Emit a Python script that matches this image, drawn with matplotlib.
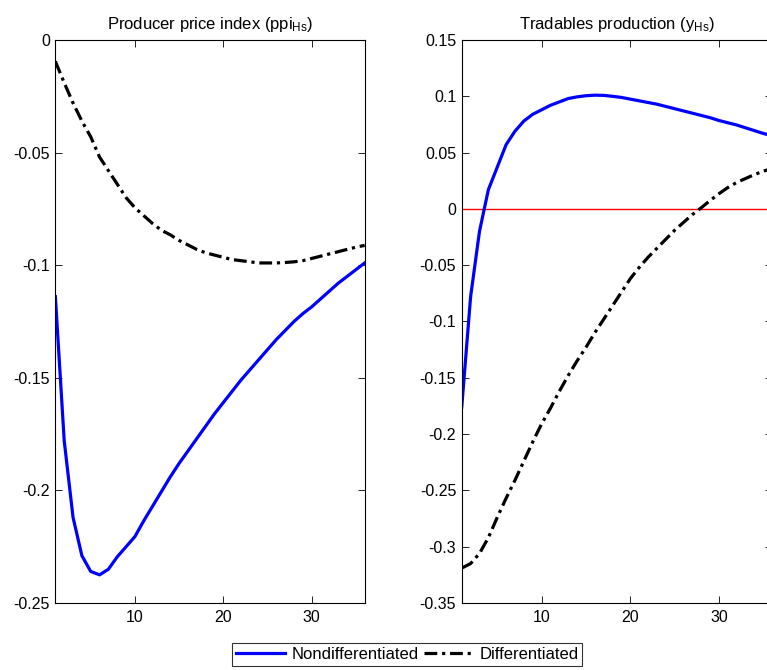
import numpy as np
import matplotlib
matplotlib.use('Agg')
import matplotlib.pyplot as plt

plt.rcParams['font.family'] = ['Liberation Sans', 'DejaVu Sans']
plt.rcParams['mathtext.default'] = 'regular'

# horizon (periods)
t = np.arange(1, 37)

# producer price index ppi_Hs
ppi_nondiff = [-0.114, -0.178, -0.212, -0.229, -0.236, -0.2375, -0.235, -0.2295, -0.225, -0.2205,
               -0.2135, -0.207, -0.2005, -0.194, -0.188, -0.1825, -0.177, -0.1715, -0.166, -0.161,
               -0.156, -0.151, -0.1465, -0.142, -0.1375, -0.133, -0.129, -0.125, -0.1215, -0.1185,
               -0.115, -0.1115, -0.108, -0.105, -0.102, -0.099]
ppi_diff = [-0.0095, -0.019, -0.028, -0.036, -0.043, -0.052, -0.058, -0.064, -0.070, -0.0745,
            -0.078, -0.0815, -0.0845, -0.0865, -0.089, -0.091, -0.093, -0.0945, -0.0955, -0.0965,
            -0.0975, -0.098, -0.0985, -0.099, -0.099, -0.099, -0.0988, -0.0985, -0.098, -0.097,
            -0.096, -0.095, -0.094, -0.093, -0.092, -0.0912]

# tradables production y_Hs
y_nondiff = [-0.176, -0.078, -0.020, 0.017, 0.037, 0.057, 0.069, 0.078, 0.084, 0.088,
             0.092, 0.095, 0.098, 0.0995, 0.1005, 0.101, 0.1008, 0.100, 0.099, 0.0975,
             0.096, 0.0945, 0.093, 0.091, 0.089, 0.087, 0.085, 0.083, 0.081, 0.0785,
             0.0765, 0.0745, 0.072, 0.0695, 0.067, 0.065]
y_diff = [-0.319, -0.315, -0.306, -0.292, -0.274, -0.257, -0.241, -0.224, -0.207, -0.191,
          -0.177, -0.162, -0.148, -0.135, -0.123, -0.110, -0.098, -0.086, -0.074, -0.062,
          -0.052, -0.043, -0.035, -0.027, -0.019, -0.012, -0.005, 0.001, 0.0075, 0.0135,
          0.019, 0.0235, 0.027, 0.0305, 0.0335, 0.036]

titles = ['Producer price index (ppi$_{Hs}$)', 'Tradables production (y$_{Hs}$)']
ylims = [(-0.25, 0), (-0.35, 0.15)]
yticks = [np.arange(-0.25, 0.001, 0.05), np.arange(-0.35, 0.151, 0.05)]
ylabels = [['-0.25', '-0.2', '-0.15', '-0.1', '-0.05', '0'],
           ['-0.35', '-0.3', '-0.25', '-0.2', '-0.15', '-0.1', '-0.05', '0', '0.05', '0.1', '0.15']]

dashdot = (0, (4, 1.5, 1, 1.5))

fig = plt.figure(figsize=(7.67, 6.70), dpi=100)
ax1 = fig.add_axes([0.0722, 0.1, 0.4033, 0.8403])
ax2 = fig.add_axes([0.602, 0.1, 0.4048, 0.8403])

ax1.plot(t, ppi_nondiff, '-', color='#0000ff', lw=2.3, label='Nondifferentiated')
ax1.plot(t, ppi_diff, linestyle=dashdot, color='black', lw=2.3, label='Differentiated')

ax2.axhline(0, color='red', lw=1)
ax2.plot(t, y_nondiff, '-', color='#0000ff', lw=2.3)
ax2.plot(t, y_diff, linestyle=dashdot, color='black', lw=2.3)

for i, ax in enumerate([ax1, ax2]):
    ax.set_xlim(1, 36)
    ax.set_ylim(*ylims[i])
    ax.set_xticks([10, 20, 30])
    ax.set_yticks(yticks[i])
    ax.set_yticklabels(ylabels[i])
    ax.tick_params(direction='in', top=True, right=True, length=5, width=0.6,
                   labelsize=11.5, colors='black')
    ax.tick_params(axis='x', pad=5)
    ax.tick_params(axis='y', pad=4)
    for s in ax.spines.values():
        s.set_linewidth(0.8)
    ax.set_title(titles[i], fontsize=12, pad=8)

h, l = ax1.get_legend_handles_labels()
leg = fig.legend(h, l, loc='center', bbox_to_anchor=(0.531, 0.0231), ncol=2,
                 fontsize=12, frameon=True, fancybox=False, edgecolor='black',
                 handlelength=2.9, handletextpad=0.4, columnspacing=0.35,
                 borderpad=0.25, borderaxespad=0)
leg.get_frame().set_linewidth(0.8)

plt.savefig('out.png', dpi=100)
